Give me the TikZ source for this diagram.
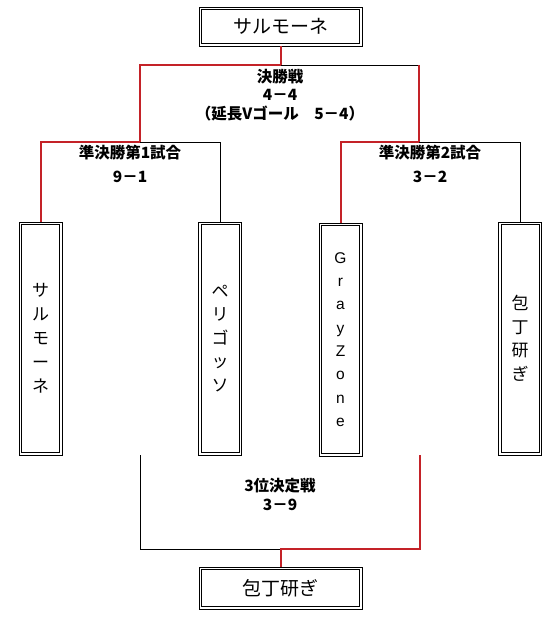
\documentclass[tikz,border=0pt]{standalone}
\usepackage{fontspec}
\setmainfont{Noto Sans CJK JP}
\newfontfamily\latinfont{Liberation Sans}
\definecolor{winred}{RGB}{196,34,40}
\tikzset{
  dbox/.style={draw, line width=0.9pt, inner sep=0pt},
  inner/.style={draw, line width=0.9pt},
  hbox/.style={dbox, minimum width=163pt, minimum height=39pt, font=\fontsize{19}{19}\selectfont},
  vbox/.style={dbox, minimum width=43pt, minimum height=233pt, align=center},
  lbl/.style={font=\bfseries\fontsize{15.5}{15.5}\selectfont, inner sep=0pt},
  win/.style={draw=winred, line width=2pt},
  lose/.style={draw=black, line width=0.9pt},
}
\begin{document}
\begin{tikzpicture}[x=1pt,y=-1pt]
\useasboundingbox (0,0) rectangle (558,617);
% boxes
\node[hbox] (top) at (280.5,26.5) {\raisebox{-2.5pt}{サルモーネ}};
\node[hbox, minimum height=42pt] (bot) at (280.5,588) {\raisebox{-1pt}{包丁研ぎ}};
\node[vbox, font=\fontsize{17}{24}\selectfont] (b1) at (40.5,338.5) {サ\\ル\\モ\\ー\\ネ};
\node[vbox, font=\fontsize{17}{23.5}\selectfont] (b2) at (220,338.5) {ペ\\リ\\ゴ\\ッ\\ソ};
\node[vbox, font=\latinfont\fontsize{15.5}{23.3}\selectfont] (b3) at (340.5,339.5) {G\\r\\a\\y\\Z\\o\\n\\e};
\node[vbox, font=\fontsize{17}{23.5}\selectfont] (b4) at (520,338.5) {\raisebox{-3pt}{包}\\\raisebox{-3pt}{丁}\\\raisebox{-3pt}{研}\\\raisebox{-3pt}{ぎ}};
\foreach \n in {top,bot,b1,b2,b3,b4}
  \draw[inner] ([shift={(3,3)}]\n.north west) rectangle ([shift={(-3,-3)}]\n.south east);
% coordinates
\coordinate (fL) at (140,65);
\coordinate (fR) at (419,65);
\coordinate (fM) at (top.south |- fL);
\coordinate (s1) at (130,142);
\coordinate (s2) at (430,142);
\coordinate (tL) at (140,455);
\coordinate (tR) at (420,455);
\coordinate (tY) at (280,549);
% final
\draw[win] (top.south) -- (fM) -- (fL) -- (fL |- s1) -- (b1.north |- s1) -- (b1.north);
\draw[lose] (fM) -- (fR);
\draw[win] (fR) -- (fR |- s2) -- (b3.north |- s2) -- (b3.north);
\draw[lose] (fL |- s1) -- (b2.north |- s1) -- (b2.north);
\draw[lose] (fR |- s2) -- (b4.north |- s2) -- (b4.north);
% third place
\draw[lose] (tL) -- (tL |- tY) -- (bot.north |- tY);
\draw[win] (tR) -- (tR |- tY) -- (bot.north |- tY) -- (bot.north);
% labels
\node[lbl] (l1) at (280,77) {決勝戦};
\node[lbl] (l2) at (280,95) {4－4};
\node[lbl] (l3) at (280,114) {（延長Vゴール　5－4）};
\node[lbl] (l4) at (130,153) {準決勝第1試合};
\node[lbl] (l5) at (130,177) {9－1};
\node[lbl] (l6) at (430,153) {準決勝第2試合};
\node[lbl] (l7) at (430,177) {3－2};
\node[lbl] (l8) at (280,486) {3位決定戦};
\node[lbl] (l9) at (280,505) {3－9};
\end{tikzpicture}
\end{document}
